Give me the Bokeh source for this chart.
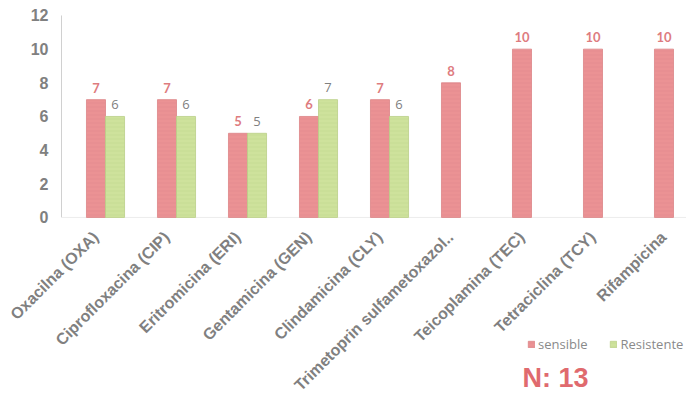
import math
from bokeh.plotting import figure
from bokeh.models import ColumnDataSource, Range1d, Legend, LegendItem, Label
from bokeh.transform import dodge
from bokeh.core.properties import value
from bokeh.embed import file_html
from bokeh.resources import INLINE

categories = ["Oxacilna (OXA)", "Ciprofloxacina (CIP)", "Eritromicina (ERI)",
              "Gentamicina (GEN)", "Clindamicina (CLY)", "Trimetoprin sulfametoxazol..",
              "Teicoplamina (TEC)", "Tetraciclina (TCY)", "Rifampicina"]
sensible = [7, 7, 5, 6, 7, 8, 10, 10, 10]
resistente = [6, 6, 5, 7, 6, None, None, None, None]
y_ticks = [0, 2, 4, 6, 8, 10, 12]
series_names = ["sensible", "Resistente"]
note = "N: 13"

RED = "#eb9294"
RED_LINE = "#dc8487"
GREEN = "#cee29c"
GREEN_LINE = "#bacf88"
GRAY = "#808080"

X0, X1 = -1.479, 8.183     # canvas spans the whole window
AXIS_X = -0.62             # where the value axis sits

idx = list(range(len(categories)))
src_s = ColumnDataSource(dict(x=idx, v=sensible, t=[str(v) for v in sensible]))
rx = [i for i, v in zip(idx, resistente) if v is not None]
rv = [v for v in resistente if v is not None]
src_r = ColumnDataSource(dict(x=rx, v=rv, t=[str(v) for v in rv]))
src_c = ColumnDataSource(dict(x=idx, y=[0] * len(idx), name=categories))
src_y = ColumnDataSource(dict(x=[AXIS_X] * len(y_ticks), y=y_ticks,
                              t=[str(v) for v in y_ticks]))

p = figure(width=686, height=394, output_backend="svg", toolbar_location=None,
           x_range=Range1d(X0, X1), y_range=Range1d(-10.52, 12.89),
           x_axis_location=None, y_axis_location=None,
           min_border_left=0, min_border_right=0, min_border_top=0, min_border_bottom=0)
p.outline_line_color = None
p.xgrid.visible = False
p.ygrid.visible = False
p.background_fill_color = "white"
p.border_fill_color = "white"

# value axis line and category baseline
p.segment(x0=[AXIS_X], y0=[y_ticks[0]], x1=[AXIS_X], y1=[y_ticks[-1]],
          line_color="#d0d0d0", line_width=1)
p.segment(x0=[AXIS_X], y0=[0], x1=[X1], y1=[0], line_color="#ececec", line_width=1)

bw = 0.268
r1 = p.vbar(x=dodge("x", -bw / 2), top="v", width=bw, source=src_s,
            fill_color=RED, line_color=RED_LINE, line_width=0.8,
            hatch_pattern="horizontal_line", hatch_scale=4, hatch_weight=1,
            hatch_color="#c97073", hatch_alpha=0.18)
r2 = p.vbar(x=dodge("x", bw / 2), top="v", width=bw, source=src_r,
            fill_color=GREEN, line_color=GREEN_LINE, line_width=0.8,
            hatch_pattern="horizontal_line", hatch_scale=4, hatch_weight=1,
            hatch_color="#9fb56c", hatch_alpha=0.18)

p.text(x=dodge("x", -bw / 2), y="v", text="t", source=src_s,
       text_align="center", text_baseline="alphabetic", y_offset=-12,
       text_font=value("Lato"), text_font_style="bold", text_font_size="13px",
       text_color="#de7c7f")
p.text(x=dodge("x", bw / 2), y="v", text="t", source=src_r,
       text_align="center", text_baseline="alphabetic", y_offset=-12,
       text_font=value("Open Sans"), text_font_size="13px", text_color=GRAY)

# y tick labels
p.text(x="x", y="y", text="t", source=src_y, text_align="right",
       text_baseline="middle", x_offset=-13,
       text_font=value("Liberation Sans"), text_font_style="bold",
       text_font_size="16px", text_color=GRAY)

# category labels (rotated 45 degrees)
p.text(x="x", y="y", text="name", source=src_c, angle=math.pi / 4,
       text_align="right", text_baseline="middle", x_offset=-10, y_offset=17,
       text_font=value("Liberation Sans"), text_font_style="bold",
       text_font_size="16px", text_color=GRAY)

legend = Legend(items=[LegendItem(label=series_names[0], renderers=[r1]),
                       LegendItem(label=series_names[1], renderers=[r2])],
                location=(527, 41), orientation="horizontal",
                glyph_width=8, glyph_height=8, label_height=14,
                label_text_font="Open Sans", label_text_font_size="13px",
                label_text_color="#8a8a8a", label_standoff=3, spacing=22,
                padding=0, margin=0, border_line_color=None,
                background_fill_alpha=0)
p.add_layout(legend)

p.add_layout(Label(x=522, y=17, x_units="screen", y_units="screen", text=note,
                   text_font="Liberation Sans", text_font_style="bold",
                   text_font_size="27px", text_color="#e06a6e",
                   text_baseline="alphabetic"))

open("out.html", "w").write(file_html(p, INLINE))
